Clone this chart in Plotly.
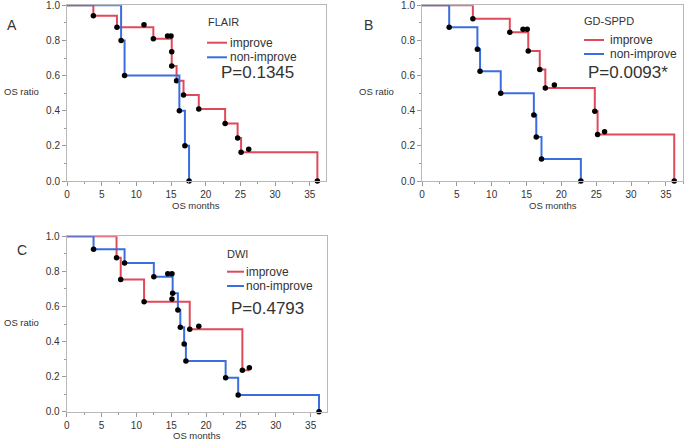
import plotly.graph_objects as go

W, H = 685, 441

# ---------------- Data ----------------
# Panel A: FLAIR
a_imp_t = [0, 3.8, 7.2, 12.45, 15.1, 15.1, 15.8, 16.8, 19.0, 22.8, 24.6, 25.1, 36.1]
a_imp_s = [1.0, 0.94, 0.875, 0.81, 0.735, 0.655, 0.57, 0.49, 0.41, 0.327, 0.245, 0.164, 0.0]
a_imp_cens_t = [11.1, 14.5, 15.0, 26.2]
a_imp_cens_s = [0.89, 0.825, 0.825, 0.18]
a_non_t = [0, 7.8, 8.3, 16.2, 17.0, 17.6]
a_non_s = [1.0, 0.8, 0.6, 0.4, 0.2, 0.0]
a_non_cens_t = []
a_non_cens_s = []

# Panel B: GD-SPPD
b_imp_t = [0, 7.3, 12.6, 15.25, 16.9, 17.7, 24.8, 25.2, 36.2]
b_imp_s = [1.0, 0.924, 0.846, 0.74, 0.635, 0.53, 0.397, 0.264, 0.0]
b_imp_cens_t = [14.5, 15.1, 19.0, 26.2]
b_imp_cens_s = [0.863, 0.863, 0.546, 0.28]
b_non_t = [0, 3.9, 7.95, 8.33, 11.3, 16.05, 16.4, 17.15, 22.8]
b_non_s = [1.0, 0.875, 0.75, 0.625, 0.5, 0.375, 0.25, 0.125, 0.0]
b_non_cens_t = []
b_non_cens_s = []

# Panel C: DWI
c_imp_t = [0, 7.15, 7.75, 11.1, 17.65, 25.2, 26.2]
c_imp_s = [1.0, 0.878, 0.753, 0.627, 0.47, 0.236, 0.236]
c_imp_event_n = 6  # last point is end of follow-up (censored)
c_imp_cens_t = [15.1, 18.95, 26.2]
c_imp_cens_s = [0.642, 0.487, 0.251]
c_non_t = [0, 3.85, 8.3, 12.5, 15.2, 15.95, 16.3, 16.85, 17.1, 22.8, 24.6, 36.2]
c_non_s = [1.0, 0.926, 0.848, 0.77, 0.675, 0.58, 0.481, 0.386, 0.289, 0.194, 0.095, 0.0]
c_non_cens_t = [14.5, 15.1]
c_non_cens_s = [0.787, 0.787]

panel_letters = ["A", "B", "C"]
panel_titles = ["FLAIR", "GD-SPPD", "DWI"]
p_values = ["P=0.1345", "P=0.0093*", "P=0.4793"]
series_names = ["improve", "non-improve"]
x_ticks = [0, 5, 10, 15, 20, 25, 30, 35]
y_ticks = [0.0, 0.2, 0.4, 0.6, 0.8, 1.0]
x_title = "OS months"
y_title = "OS ratio"

RED = "#de4a5a"
BLUE = "#3a6ee0"
AX = "#b8b8b8"
TXT = "#333333"


def px_x(p):
    return p / W


def px_y(p):
    return 1 - p / H


# panel domains in pixels: (left, right, top, bottom)
boxes = [
    (67.0, 325.7, 5.3, 181.0),
    (422.0, 683.3, 5.3, 181.0),
    (66.7, 326.7, 236.3, 411.7),
]
x_max = [37.3, 37.5, 37.3]

fig = go.Figure()

panels = [
    (a_imp_t, a_imp_s, None, a_imp_cens_t, a_imp_cens_s, a_non_t, a_non_s, a_non_cens_t, a_non_cens_s),
    (b_imp_t, b_imp_s, None, b_imp_cens_t, b_imp_cens_s, b_non_t, b_non_s, b_non_cens_t, b_non_cens_s),
    (c_imp_t, c_imp_s, c_imp_event_n, c_imp_cens_t, c_imp_cens_s, c_non_t, c_non_s, c_non_cens_t, c_non_cens_s),
]

for i, (it, is_, ien, ict, ics, nt, ns, nct, ncs) in enumerate(panels):
    xa = "x" if i == 0 else f"x{i+1}"
    ya = "y" if i == 0 else f"y{i+1}"
    for t, s, col, ct, cs, en in [(it, is_, RED, ict, ics, ien), (nt, ns, BLUE, nct, ncs, None)]:
        fig.add_trace(go.Scatter(x=t, y=s, mode="lines", line=dict(color=col, width=2, shape="hv"),
                                 xaxis=xa, yaxis=ya, showlegend=False, hoverinfo="skip", cliponaxis=False))
        n = en if en is not None else len(t)
        fig.add_trace(go.Scatter(x=t[1:n] + ct, y=s[1:n] + cs, mode="markers",
                                 marker=dict(color="black", size=5.5),
                                 xaxis=xa, yaxis=ya, showlegend=False, hoverinfo="skip", cliponaxis=False))

layout = dict(width=W, height=H, margin=dict(l=0, r=0, t=0, b=0, autoexpand=False),
              paper_bgcolor="white", plot_bgcolor="white", showlegend=False)

for i, (l, r, t, b) in enumerate(boxes):
    xk = "xaxis" if i == 0 else f"xaxis{i+1}"
    yk = "yaxis" if i == 0 else f"yaxis{i+1}"
    xa = "x" if i == 0 else f"x{i+1}"
    ya = "y" if i == 0 else f"y{i+1}"
    layout[xk] = dict(domain=[px_x(l), px_x(r)], anchor=ya, range=[0, x_max[i]], automargin=False,
                      tickvals=x_ticks, ticktext=[str(v) for v in x_ticks], ticklabeloverflow="allow",
                      showline=True, linecolor=AX, linewidth=1, mirror=True,
                      ticks="outside", ticklen=4, tickcolor="#999999",
                      minor=dict(dtick=2.5, tick0=0, ticks="outside", ticklen=2, tickcolor="#999999"),
                      showgrid=False, zeroline=False,
                      tickfont=dict(family="Liberation Sans, Arial", size=10, color=TXT))
    layout[yk] = dict(domain=[px_y(b), px_y(t)], anchor=xa, range=[0, 1], automargin=False,
                      tickvals=y_ticks, ticktext=[f"{v:.1f}" for v in y_ticks], ticklabeloverflow="allow",
                      showline=True, linecolor=AX, linewidth=1, mirror=True,
                      ticks="outside", ticklen=4, tickcolor="#999999",
                      minor=dict(dtick=0.1, tick0=0, ticks="outside", ticklen=2, tickcolor="#999999"),
                      showgrid=False, zeroline=False,
                      tickfont=dict(family="Liberation Sans, Arial", size=10, color=TXT))

fig.update_layout(**layout)

annotations = []
shapes = []
FONT = "Liberation Sans, Arial"

letter_pos = [(11.5, 24.5), (368, 25), (22, 250)]
title_pos = [(206, 22), (582, 21), (225, 254)]
leg_line = [(207, 227, 42.7, 57.3), (584, 604, 40, 54), (227, 244, 271.7, 286)]
leg_text_x = [228, 608, 244]
p_pos = [(219, 72.7), (586, 72.7), (229, 308)]
ylab_pos = [(2, 91.7), (357, 91.7), (2, 322.7)]
xlab_y = [205, 205, 435.7]

for i in range(3):
    l, r, t, b = boxes[i]
    lx, ly = letter_pos[i]
    annotations.append(dict(text=panel_letters[i], x=px_x(lx), y=px_y(ly), xref="paper", yref="paper",
                            showarrow=False, xanchor="center", yanchor="middle",
                            font=dict(family=FONT, size=14, color=TXT)))
    tx, ty = title_pos[i]
    annotations.append(dict(text=panel_titles[i], x=px_x(tx), y=px_y(ty), xref="paper", yref="paper",
                            showarrow=False, xanchor="left", yanchor="middle",
                            font=dict(family=FONT, size=11, color=TXT)))
    x0, x1, yr, yb = leg_line[i]
    for yy, col, name in [(yr, RED, series_names[0]), (yb, BLUE, series_names[1])]:
        shapes.append(dict(type="line", xref="paper", yref="paper", x0=px_x(x0), x1=px_x(x1),
                           y0=px_y(yy), y1=px_y(yy), line=dict(color=col, width=2)))
        annotations.append(dict(text=name, x=px_x(leg_text_x[i]), y=px_y(yy), xref="paper", yref="paper",
                                showarrow=False, xanchor="left", yanchor="middle",
                                font=dict(family=FONT, size=12, color=TXT)))
    px_, py_ = p_pos[i]
    annotations.append(dict(text=p_values[i], x=px_x(px_), y=px_y(py_), xref="paper", yref="paper",
                            showarrow=False, xanchor="left", yanchor="middle",
                            font=dict(family=FONT, size=17, color=TXT)))
    yx, yy = ylab_pos[i]
    annotations.append(dict(text=y_title, x=px_x(yx), y=px_y(yy), xref="paper", yref="paper",
                            showarrow=False, xanchor="left", yanchor="middle",
                            font=dict(family=FONT, size=9.5, color=TXT)))
    annotations.append(dict(text=x_title, x=px_x((l + r) / 2), y=px_y(xlab_y[i]), xref="paper", yref="paper",
                            showarrow=False, xanchor="center", yanchor="middle",
                            font=dict(family=FONT, size=9.5, color=TXT)))

fig.update_layout(annotations=annotations, shapes=shapes)
fig.write_html("out.html", config={"displayModeBar": False},
               post_script="document.body.style.margin='0px';document.body.style.overflow='hidden';")
